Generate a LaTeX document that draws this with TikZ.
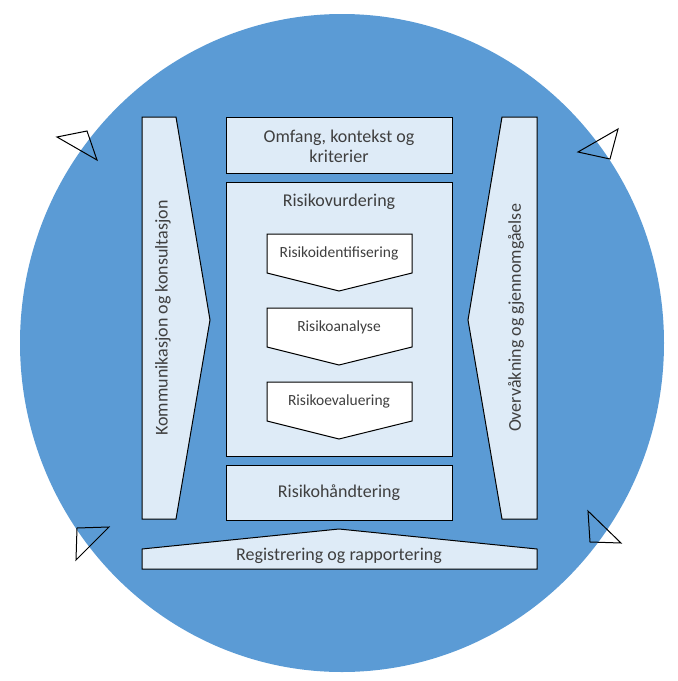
\documentclass[tikz,border=0pt]{standalone}
\usepackage{fontspec}
\setmainfont{Carlito}
\usepackage{xcolor}
\definecolor{ringblue}{HTML}{5B9BD5}
\definecolor{panelfill}{HTML}{DEEBF7}
\definecolor{textgray}{HTML}{3F3F3F}

\begin{document}
\begin{tikzpicture}[x=1pt,y=-1pt,
  panel/.style={draw=black,line width=1pt,fill=panelfill},
  chevron/.style={draw=black,line width=1pt,fill=white},
  tip/.style={draw=black,line width=1pt},
  bigtext/.style={text=textgray,font=\fontsize{18}{20}\selectfont,align=center,inner sep=0pt},
  smalltext/.style={text=textgray,font=\fontsize{15.5}{18}\selectfont,inner sep=0pt}]
  \useasboundingbox (0,0) rectangle (678,681);
  \fill[ringblue] (342,343) ellipse [x radius=322,y radius=329];
  % tips round the ring
  \draw[tip] (57,137)--(87,131)--(97,160)--cycle;
  \draw[tip] (578,152)--(618,129)--(610,159)--cycle;
  \draw[tip] (77,528)--(109,527)--(76,560)--cycle;
  \draw[tip] (588,511)--(590,542)--(621,543)--cycle;
  % side panels
  \draw[panel] (142,117)--(176,117)--(210,320)--(176,519)--(142,519)--cycle;
  \draw[panel] (502,117)--(537,117)--(537,519)--(502,519)--(468,320)--cycle;
  \node[bigtext,rotate=90] (komm) at (163,318) {Kommunikasjon og konsultasjon};
  \node[bigtext,rotate=90] (overv) at (516,318) {Overvåkning og gjennomgåelse};
  % middle column
  \draw[panel] (226,117) rectangle (452,173);
  \node[bigtext] (omfang) at (339,146) {Omfang, kontekst og\\kriterier};
  \draw[panel] (226,182) rectangle (452,456);
  \node[bigtext] (vurd) at (339,202) {Risikovurdering};
  \foreach \t/\name/\txt in {234/ident/Risikoidentifisering,308/analyse/Risikoanalyse,382/evaluer/Risikoevaluering}{
    \draw[chevron] (267,\t)--(412,\t)--(412,\t+39)--(339,\t+57)--(267,\t+39)--cycle;
    \node[smalltext] (\name) at (339,\t+19) {\txt};
  }
  \draw[panel] (226,465) rectangle (452,520);
  \node[bigtext] (hand) at (339,493) {Risikohåndtering};
  % bottom panel
  \draw[panel] (142,549)--(339,529)--(537,549)--(537,569)--(142,569)--cycle;
  \node[bigtext] (reg) at (339,556) {Registrering og rapportering};
\end{tikzpicture}
\end{document}
